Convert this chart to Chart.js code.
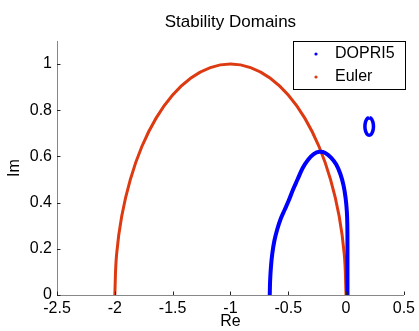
<!DOCTYPE html>
<html>
<head>
<meta charset="utf-8">
<title>Stability Domains</title>
<script src="https://cdn.jsdelivr.net/npm/chart.js@4.4.1/dist/chart.umd.min.js"></script>
<style>
    html, body { margin: 0; padding: 0; background: #ffffff; }
    #wrap { width: 419px; height: 331px; }
</style>
</head>
<body>
<div id="wrap"><canvas id="stability" width="419" height="331"></canvas></div>
<script>
"use strict";

// Boundary of the explicit Euler domain (upper half)
const euler_re = [-2.0, -1.985, -1.94, -1.866, -1.766, -1.643, -1.5, -1.342, -1.174, -1.0,
    -0.826, -0.658, -0.5, -0.357, -0.234, -0.134, -0.06, -0.015, 0.0];
const euler_im = [0.0, 0.174, 0.342, 0.5, 0.643, 0.766, 0.866, 0.94, 0.985, 1.0,
    0.985, 0.94, 0.866, 0.766, 0.643, 0.5, 0.342, 0.174, 0.0];

// DOPRI5 boundary near the origin
const dopri_re = [-0.66, -0.657, -0.65, -0.638, -0.62, -0.595, -0.565, -0.53, -0.495, -0.46, -0.42, -0.375,
    -0.33, -0.28, -0.23, -0.18, -0.13, -0.085, -0.05, -0.022, -0.004, 0.007, 0.011, 0.012, 0.012, 0.012];
const dopri_im = [0.0, 0.06, 0.12, 0.18, 0.235, 0.285, 0.33, 0.37, 0.41, 0.455, 0.5, 0.55,
    0.585, 0.61, 0.62, 0.615, 0.595, 0.565, 0.525, 0.475, 0.42, 0.36, 0.3, 0.2, 0.1, 0.0];

// small closed DOPRI5 piece in the right half plane
const loop_re = [0.2, 0.219, 0.232, 0.237, 0.232, 0.219, 0.2, 0.181, 0.168, 0.163, 0.168, 0.181, 0.2];
const loop_im = [0.768, 0.763, 0.749, 0.73, 0.711, 0.697, 0.692, 0.697, 0.711, 0.73, 0.749, 0.763, 0.768];

const x_ticks = [-2.5, -2, -1.5, -1, -0.5, 0, 0.5];
const y_ticks = [0, 0.2, 0.4, 0.6, 0.8, 1];

const series_names = ['DOPRI5', 'Euler'];
const series_colors = ['#0000ff', '#dd3a12'];

const FONT = 'Helvetica, Arial, "Liberation Sans", sans-serif';

function pairs(re, im) {
    return re.map(function (v, i) { return { x: v, y: im[i] }; });
}

// MATLAB style labels: 1 instead of 1.0, -2 instead of -2.0
function shortLabel(v) {
    return String(Math.round(v * 10) / 10);
}

// Title, inward tick marks and boxed legend (MATLAB look)
const decor = {
    id: 'decor',
    afterDraw: function (chart) {
        const ctx = chart.ctx;
        const area = chart.chartArea;
        const xs = chart.scales.x, ys = chart.scales.y;
        ctx.save();

        // title
        ctx.fillStyle = '#000';
        ctx.font = '17px ' + FONT;
        ctx.textAlign = 'center';
        ctx.textBaseline = 'middle';
        ctx.fillText('Stability Domains', (area.left + area.right) / 2, 22);

        // tick marks pointing into the axes
        ctx.strokeStyle = '#262626';
        ctx.lineWidth = 1;
        ctx.beginPath();
        x_ticks.forEach(function (v) {
            const px = Math.round(xs.getPixelForValue(v)) + 0.5;
            ctx.moveTo(px, area.bottom);
            ctx.lineTo(px, area.bottom - 3.5);
        });
        y_ticks.forEach(function (v) {
            const py = Math.round(ys.getPixelForValue(v)) + 0.5;
            ctx.moveTo(area.left, py);
            ctx.lineTo(area.left + 3.5, py);
        });
        ctx.stroke();

        // legend
        const box = { left: 293.5, top: 41.5, right: 405.5, bottom: 89.5 };
        ctx.fillStyle = '#fff';
        ctx.fillRect(box.left, box.top, box.right - box.left, box.bottom - box.top);
        ctx.strokeStyle = '#000';
        ctx.strokeRect(box.left, box.top, box.right - box.left, box.bottom - box.top);
        ctx.font = '16px ' + FONT;
        ctx.textAlign = 'left';
        series_names.forEach(function (name, i) {
            const cy = 54 + i * 23;
            ctx.fillStyle = series_colors[i];
            ctx.beginPath();
            ctx.arc(316, cy, 1.6, 0, Math.PI * 2);
            ctx.fill();
            ctx.fillStyle = '#000';
            ctx.fillText(name, 335, cy);
        });
        ctx.restore();
    }
};

const ctx = document.getElementById('stability').getContext('2d');
const stabilityChart = new Chart(ctx, {
    type: 'scatter',
    data: {
        datasets: [{
            label: series_names[0],
            data: pairs(dopri_re, dopri_im),
            showLine: true,
            borderColor: series_colors[0],
            borderWidth: 4,
            pointRadius: 0,
            tension: 0.4
        }, {
            label: series_names[0],
            data: pairs(loop_re, loop_im),
            showLine: true,
            borderColor: series_colors[0],
            borderWidth: 3.5,
            pointRadius: 0,
            tension: 0.4
        }, {
            label: series_names[1],
            data: pairs(euler_re, euler_im),
            showLine: true,
            borderColor: series_colors[1],
            borderWidth: 3,
            pointRadius: 0,
            tension: 0.4
        }]
    },
    options: {
        responsive: false,
        animation: false,
        devicePixelRatio: 1,
        layout: { padding: { left: 0, right: 13, top: 41, bottom: 0 } },
        plugins: {
            legend: { display: false },
            title: { display: false },
            tooltip: { enabled: false }
        },
        scales: {
            x: {
                type: 'linear',
                min: -2.5,
                max: 0.5,
                afterFit: function (s) { s.height = 36; },
                afterBuildTicks: function (s) { s.ticks = x_ticks.map(function (v) { return { value: v }; }); },
                grid: { display: false, drawTicks: false },
                border: { display: true, color: '#888888', width: 1 },
                ticks: { color: '#000', padding: 4, maxRotation: 0, autoSkip: false, callback: shortLabel, font: { family: FONT, size: 16 } },
                title: { display: true, text: 'Re', color: '#000', padding: { top: 0, bottom: 0 }, font: { family: FONT, size: 16 } }
            },
            y: {
                type: 'linear',
                min: 0,
                max: 1.1,
                afterFit: function (s) { s.width = 57; },
                afterBuildTicks: function (s) { s.ticks = y_ticks.map(function (v) { return { value: v }; }); },
                grid: { display: false, drawTicks: false },
                border: { display: true, color: '#888888', width: 1 },
                ticks: { color: '#000', padding: 5, autoSkip: false, callback: shortLabel, font: { family: FONT, size: 16 } },
                title: { display: true, text: 'Im', color: '#000', padding: { top: 5, bottom: 0 }, font: { family: FONT, size: 16 } }
            }
        }
    },
    plugins: [decor]
});
</script>
</body>
</html>
